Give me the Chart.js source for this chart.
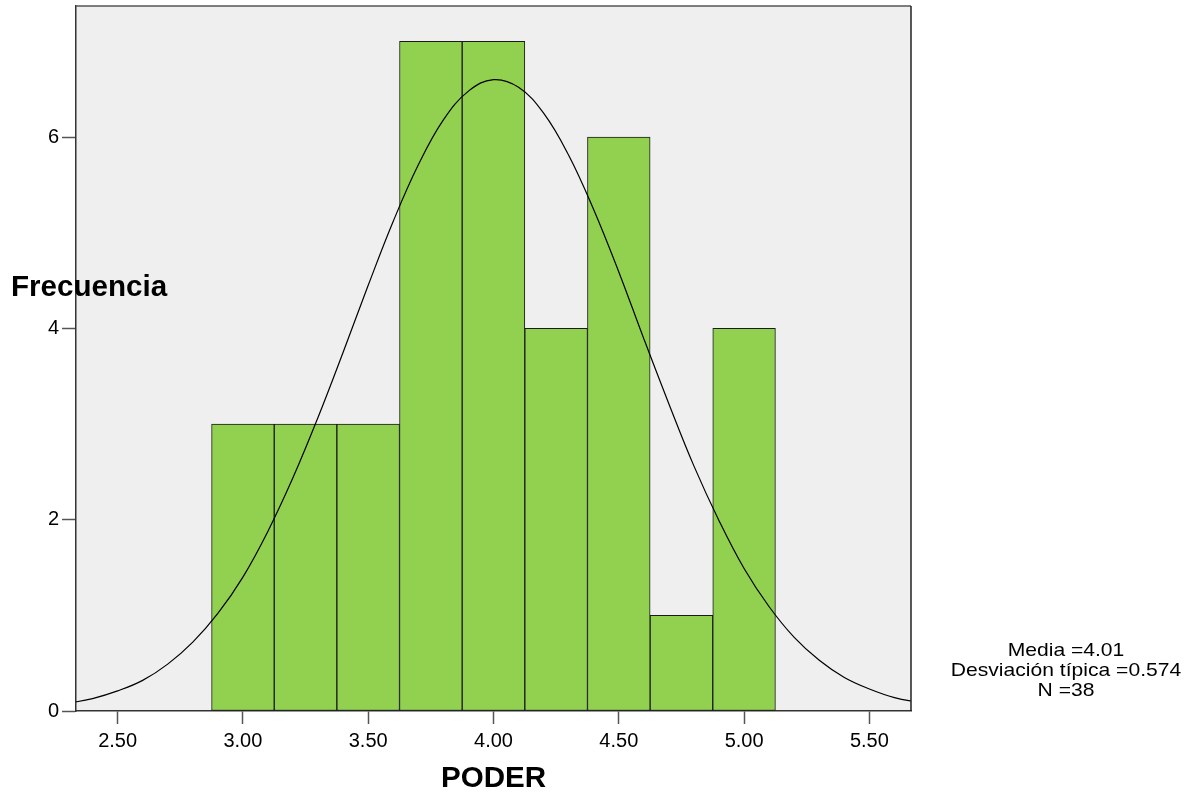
<!DOCTYPE html>
<html>
<head>
<meta charset="utf-8">
<script src="https://cdn.jsdelivr.net/npm/chart.js@4/dist/chart.umd.min.js"></script>
<style>
  html, body { margin: 0; padding: 0; background: #fff; }
  #wrap { width: 1194px; height: 793px; position: relative; }
</style>
</head>
<body>
<div id="wrap"><canvas id="histChart"></canvas></div>
<script>
// histogram bins (centre of each 0.25-wide bin) and counts
const binCenters = [3.00, 3.25, 3.50, 3.75, 4.00, 4.25, 4.50, 4.75, 5.00];
const binCounts = [3, 3, 3, 7, 7, 4, 6, 1, 4];

// normal curve
const curveX = [2.3, 2.4, 2.5, 2.6, 2.7, 2.8, 2.9, 3.0, 3.1, 3.2, 3.3, 3.4, 3.5, 3.6, 3.7, 3.8, 3.9, 4.0,
                4.1, 4.2, 4.3, 4.4, 4.5, 4.6, 4.7, 4.8, 4.9, 5.0, 5.1, 5.2, 5.3, 5.4, 5.5, 5.6, 5.7];
const curveY = [0.08, 0.13, 0.21, 0.32, 0.49, 0.72, 1.02, 1.40, 1.88, 2.44, 3.07, 3.75, 4.45, 5.12, 5.71, 6.18, 6.48, 6.60,
                6.52, 6.25, 5.81, 5.24, 4.59, 3.89, 3.21, 2.56, 1.99, 1.49, 1.09, 0.77, 0.53, 0.35, 0.23, 0.14, 0.09];

const xTicks = [2.5, 3.0, 3.5, 4.0, 4.5, 5.0, 5.5];
const yTicks = [0, 2, 4, 6];
const statsLines = ['Media =4.01', 'Desviación típica =0.574', 'N =38'];

const FONT = '"Liberation Sans", Arial, sans-serif';

// the original text is a little wider than Liberation Sans, so stretch it sideways
function wideText(ctx, text, x, y, stretch) {
    ctx.save();
    ctx.translate(x, y);
    ctx.scale(stretch, 1);
    ctx.fillText(text, 0, 0);
    ctx.restore();
}

const plotFrame = {
    id: 'plotFrame',
    beforeDraw(chart) {
        const { ctx, chartArea: a } = chart;
        ctx.save();
        ctx.fillStyle = '#efefef';
        ctx.fillRect(a.left, a.top, a.right - a.left, a.bottom - a.top);
        ctx.restore();
    },
    afterDraw(chart) {
        const { ctx, chartArea: a } = chart;
        ctx.save();
        // top and right edges of the frame
        ctx.lineWidth = 1.5;
        ctx.strokeStyle = '#555';
        ctx.beginPath();
        ctx.moveTo(a.left, a.top);
        ctx.lineTo(a.right, a.top);
        ctx.stroke();
        ctx.strokeStyle = '#222';
        ctx.beginPath();
        ctx.moveTo(a.right, a.top);
        ctx.lineTo(a.right, a.bottom);
        ctx.stroke();

        ctx.fillStyle = '#000';
        ctx.font = 'bold 29px ' + FONT;
        ctx.textBaseline = 'alphabetic';
        ctx.textAlign = 'left';
        wideText(ctx, 'Frecuencia', 11, 296, 1.02);
        ctx.textAlign = 'center';
        wideText(ctx, 'PODER', (a.left + a.right) / 2, 787, 1.02);

        ctx.font = '19px ' + FONT;
        statsLines.forEach((t, i) => wideText(ctx, t, 1066, 656 + i * 20, 1.11));
        ctx.restore();
    }
};

new Chart(document.getElementById('histChart'), {
    data: {
        datasets: [{
            type: 'line',
            data: curveX.map((x, i) => ({ x, y: curveY[i] })),
            borderColor: '#000',
            borderWidth: 1.2,
            pointRadius: 0,
            tension: 0.4,
            order: 0
        }, {
            type: 'bar',
            data: binCenters.map((x, i) => ({ x, y: binCounts[i] })),
            backgroundColor: '#92d050',
            borderColor: '#1a1a1a',
            borderWidth: 1,
            borderSkipped: false,
            barPercentage: 1,
            categoryPercentage: 1,
            order: 1
        }]
    },
    options: {
        responsive: true,
        maintainAspectRatio: false,
        animation: false,
        layout: { padding: { top: 6, right: 283, left: 0, bottom: 0 } },
        plugins: { legend: { display: false }, tooltip: { enabled: false } },
        scales: {
            x: {
                type: 'linear',
                offset: false,
                min: 2.334,
                max: 5.666,
                afterFit: s => { s.height = 82; s.paddingLeft = 0; s.paddingRight = 0; },
                afterBuildTicks: s => { s.ticks = xTicks.map(v => ({ value: v })); },
                ticks: {
                    includeBounds: false,
                    stepSize: 0.5,
                    padding: 5,
                    color: '#000',
                    font: { family: FONT, size: 20 },
                    callback: v => Number(v).toFixed(2)
                },
                grid: { offset: false, drawOnChartArea: false, tickLength: 13, color: '#555', tickWidth: 1.5 },
                border: { color: '#333', width: 1.5 }
            },
            y: {
                min: 0,
                max: 7.37,
                afterFit: s => { s.width = 76; s.paddingTop = 0; s.paddingBottom = 0; },
                afterBuildTicks: s => { s.ticks = yTicks.map(v => ({ value: v })); },
                ticks: {
                    includeBounds: false,
                    stepSize: 2,
                    padding: 3,
                    color: '#000',
                    font: { family: FONT, size: 20 }
                },
                grid: { drawOnChartArea: false, tickLength: 14, color: '#555', tickWidth: 1.5 },
                border: { color: '#333', width: 1.5 }
            }
        }
    },
    plugins: [plotFrame]
});
</script>
</body>
</html>
